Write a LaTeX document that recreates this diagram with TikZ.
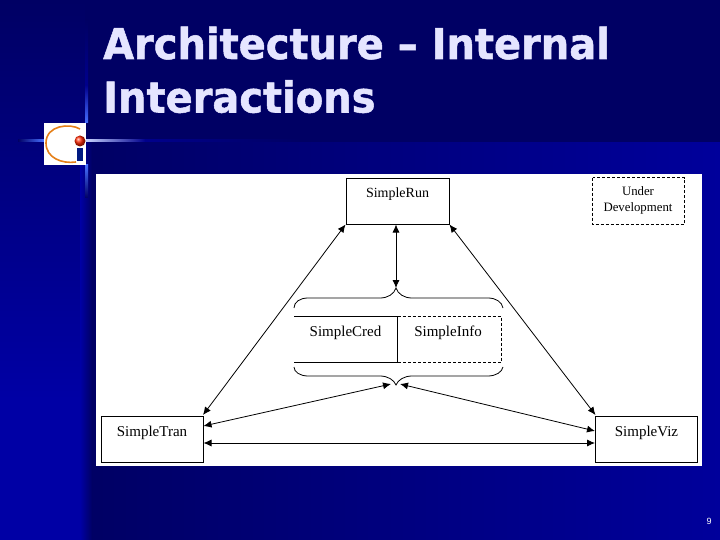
\documentclass[tikz,border=0pt]{standalone}
\usepackage{fontspec}
\setmainfont{Liberation Serif}
\newfontfamily\titlefont[FakeStretch=0.94,BoldFeatures={FakeBold=1.2}]{DejaVu Sans}
\newfontfamily\numfont{Liberation Sans}
\usetikzlibrary{arrows.meta}
\definecolor{navy}{RGB}{0,0,100}
\definecolor{panel}{RGB}{0,0,155}
\definecolor{leftblue}{RGB}{0,0,165}
\definecolor{glow}{RGB}{70,110,255}
\definecolor{faint}{RGB}{0,0,140}
\tikzset{
  x=1pt,y=-1pt,
  boxnode/.style={draw=black,line width=0.9pt,fill=white,minimum width=#1,minimum height=46pt,inner xsep=0pt,inner ysep=0pt,
    text height=20pt,text depth=26pt,font=\fontsize{15}{16}\selectfont},
  boxnode/.default=103pt,
  cell/.style={font=\fontsize{15}{16}\selectfont,inner sep=0pt},
  link/.style={draw=black,line width=0.8pt,{Latex[length=8pt,width=7pt]}-{Latex[length=8pt,width=7pt]}},
  brace/.style={draw=black,line width=0.8pt},
  titletext/.style={font=\titlefont\bfseries\fontsize{42.5}{50}\selectfont,text=white!90!blue,anchor=base west,inner sep=0pt},
}
\begin{document}
\begin{tikzpicture}
\useasboundingbox (0,0) rectangle (720,540);
% background
\fill[navy] (0,0) rectangle (720,540);
\shade[left color=navy,right color=panel] (85,143) rectangle (720,540);
\shade[top color=navy,bottom color=leftblue] (0,0) rectangle (85,400);
\fill[leftblue] (0,400) rectangle (85,540);
\shade[left color=leftblue,right color=navy] (80,143) rectangle (92,540);
% glow lines
\shade[left color=navy,right color=glow] (18,140) rectangle (44,142);
\shade[left color=white!70!glow,right color=faint] (86,140) rectangle (145,142);
\shade[left color=faint,right color=navy] (145,140) rectangle (300,142);
\shade[top color=navy,bottom color=faint] (85,20) rectangle (88,85);
\shade[top color=faint,bottom color=glow] (85,85) rectangle (88,123);
\shade[top color=glow,bottom color=navy] (85,165) rectangle (88,198);
% white panel
\fill[white] (96,174) rectangle (702,466);
% logo
\fill[white] (44,123) rectangle (86,165);
\draw[orange!60!brown,line width=1.6pt] (80,129) .. controls (70,123) and (46,125) .. (46,143) .. controls (46,158) and (62,164) .. (76,162);
\fill[blue!45!black!90!cyan] (77,148) rectangle (83,161);
\shade[ball color=red!70!orange] (80,141) circle (5.5);
% title
\node[titletext] (t1) at (103,59) {Architecture – Internal};
\node[titletext] (t2) at (103,112.5) {Interactions};
% boxes
\node[boxnode,font=\fontsize{14}{15}\selectfont] (run) at (397.5,201) {SimpleRun};
\node[boxnode=91pt,draw=none,fill=none] (dev) at (638.5,201) {};
\draw[line width=0.8pt,dash pattern=on 3pt off 2pt] (dev.north west) rectangle (dev.south east);
\node[align=center,inner sep=0pt,font=\fontsize{12.8}{16}\selectfont] (devtext) at (638,200.5) {Under\\Development};
\node[boxnode=102pt] (tran) at (152,439) {SimpleTran};
\node[boxnode=102.5pt] (viz) at (646.5,439) {SimpleViz};
% middle cells
\coordinate (ctl) at (294,316.5);
\coordinate (ctm) at (397.5,316.5);
\coordinate (ctr) at (501.5,316.5);
\coordinate (cbl) at (294,362);
\coordinate (cbm) at (397.5,362);
\coordinate (cbr) at (501.5,362);
\draw[line width=0.9pt] (ctl) -- (ctm) -- (cbm) -- (cbl);
\draw[line width=0.8pt,dash pattern=on 3pt off 2pt] (ctm) -- (ctr) -- (cbr) -- (cbm);
\node[cell] (cred) at (345.5,333) {SimpleCred};
\node[cell] (info) at (448,333) {SimpleInfo};
% braces
\coordinate (topb) at (396,288);
\coordinate (botb) at (396,385);
\draw[brace] (294,308) .. controls (294,302) and (300,298) .. (308,298) -- (380,298) .. controls (388,298) and (394,294) .. (topb)
  .. controls (398,294) and (404,298) .. (412,298) -- (488,298) .. controls (496,298) and (502,302) .. (503,308);
\draw[brace] (294,367) .. controls (294,372) and (300,376) .. (308,376) -- (380,376) .. controls (388,376) and (394,380) .. (botb)
  .. controls (398,380) and (404,376) .. (412,376) -- (488,376) .. controls (496,376) and (502,372) .. (503,367);
% connectors
\coordinate (runb) at (396,224.5);
\coordinate (runl) at (345.5,224.5);
\coordinate (runr) at (449.5,224.5);
\coordinate (tranr) at (203,415);
\coordinate (vizl) at (595.5,415);
\coordinate (tl) at (203.5,426);
\coordinate (vl) at (595,431);
\coordinate (tm) at (203.5,443);
\coordinate (vm) at (595,443);
\coordinate (bl) at (391,384);
\coordinate (br) at (400,384);
\draw[link] (runb) -- (topb);
\draw[link] (runl) -- (tranr);
\draw[link] (runr) -- (vizl);
\draw[link] (bl) -- (tl);
\draw[link] (br) -- (vl);
\draw[link] (tm) -- (vm);
% page number
\node[font=\numfont\fontsize{9}{10}\selectfont,text=white,inner sep=0pt] (num) at (709,521) {9};
\end{tikzpicture}
\end{document}
